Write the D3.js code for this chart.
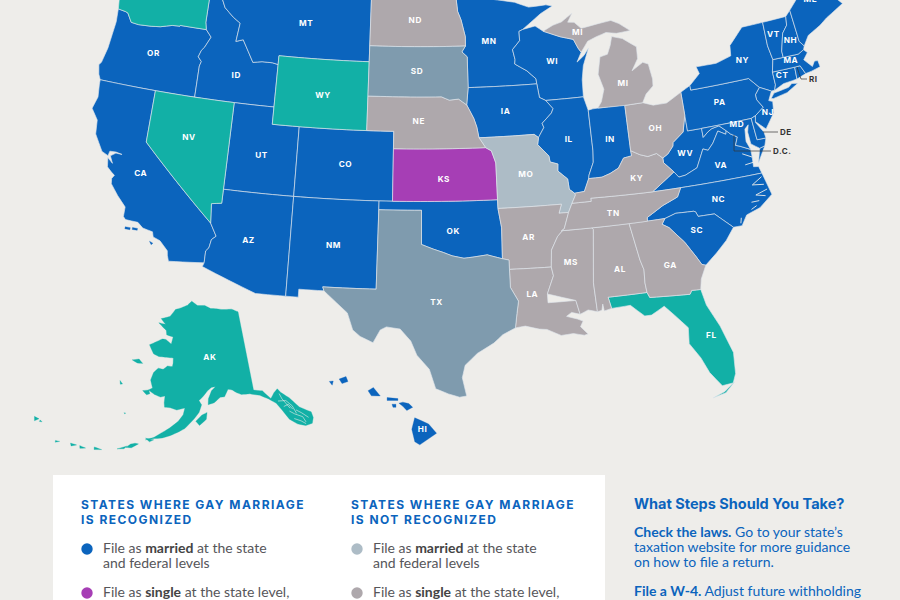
<!DOCTYPE html>
<html><head><meta charset="utf-8">
<script src="https://d3js.org/d3.v7.min.js"></script>
<style>html,body{margin:0;padding:0;background:#eeedea}svg{display:block}</style>
</head><body><svg id="c" width="900" height="600"></svg>
<script>
// ---- shared borders (lon, lat)
const colR=[[-124.0,46.27],[-123.4,46.2],[-123.2,46.15],[-122.8,45.65],[-122.2,45.6],[-121.2,45.65],[-120.5,45.72],[-119.6,45.92],[-119.0,45.95],[-118.98,46.0],[-116.92,46.0]];
const snakeR=[[-116.92,46.0],[-116.46,45.6],[-116.85,44.95],[-117.05,44.75],[-117.22,44.35],[-116.93,44.1],[-117.03,43.83],[-117.03,42]];
const idMt=[[-116.05,49],[-116.05,48],[-115.7,47.45],[-114.95,46.95],[-114.35,46.65],[-114.5,45.55],[-113.95,45.7],[-113.45,45.05],[-113.0,44.45],[-112.3,44.55],[-111.5,44.55],[-111.05,44.48]];
const coloR=[[-114.63,35.0],[-114.14,34.3],[-114.43,34.08],[-114.53,33.6],[-114.72,33.4],[-114.72,32.72]];
const redR=[[-100,34.56],[-99.2,34.3],[-98.5,34.1],[-97.9,33.9],[-97.1,33.75],[-96.5,33.8],[-95.5,33.9],[-94.48,33.64]];
const missUp=[[-91.22,43.5],[-91.1,42.7],[-90.65,42.5],[-90.15,42.0],[-90.3,41.75],[-91.05,41.2],[-90.95,40.95],[-91.4,40.4]];
const missMid=[[-91.4,40.4],[-91.5,40.0],[-90.75,39.3],[-90.7,38.95],[-90.15,38.8],[-90.2,38.4],[-89.55,37.9],[-89.5,37.3],[-89.15,37.05]];
const missLow=[[-89.7,36],[-90.1,35.1],[-90.6,34.7],[-91.1,33.95],[-91.2,33.0],[-91.1,32.5],[-91.6,31.5],[-91.6,31]];
const missRivNE=[[-96.45,43.5],[-96.6,42.5],[-96.1,41.7],[-95.9,41.2],[-95.77,40.58]];
const ohioR=[[-89.15,37.05],[-88.45,37.1],[-88.05,37.8],[-87.1,37.8],[-86.5,37.95],[-85.85,38.2],[-85.4,38.73],[-84.8,38.8],[-84.82,39.1],[-84.2,38.8],[-83.65,38.63],[-83.0,38.73],[-82.6,38.42]];
const wvVa=[[-81.97,37.54],[-81.68,37.2],[-81.2,37.25],[-80.3,37.55],[-79.65,38.55],[-79.3,38.42],[-78.87,38.77],[-78.35,39.4],[-77.83,39.13],[-77.75,39.32]];
const potomac=[[-77.75,39.32],[-77.5,39.1],[-77.05,38.85],[-77.3,38.4],[-77.0,38.3],[-76.3,38.0]];
const mdWv=[[-79.48,39.2],[-79.05,39.47],[-78.75,39.6],[-78.2,39.68],[-77.75,39.32]];
const gaSc=[[-83.1,35],[-83.35,34.7],[-82.9,34.45],[-82.0,33.5],[-81.4,32.6],[-81.1,32.1],[-80.85,32.03]];
const ncSc=[[-83.1,35],[-82.3,35.2],[-81.05,35.15],[-80.93,35.1],[-80.8,34.82],[-79.67,34.8],[-78.55,33.86]];
const tnNc=[[-84.32,34.99],[-84.3,35.2],[-83.1,35.75],[-82.0,36.1],[-81.68,36.59]];
const wiMn=[[-92.3,46.65],[-92.3,46.1],[-92.9,45.6],[-92.75,45],[-92.8,44.75],[-91.9,44.3],[-91.25,43.8],[-91.22,43.5]];
const wiMi=[[-90.4,46.55],[-89.1,46.13],[-88.1,45.9],[-87.8,45.35],[-87.6,45.1]];
const nyNe=[[-73.35,45.0],[-73.4,43.6],[-73.25,42.75],[-73.5,42.05],[-73.5,41.3],[-73.65,41.0]];

// ---- state outlines (lon, lat)
const WA=[[-124.7,48.4],[-123.2,48.15],[-122.8,48.95],[-123,49],[-117.03,49],[-117.04,46.42],...colR.slice().reverse(),[-124.1,46.9]];
const OR=[...colR,...snakeR,[-124.21,42],[-124.4,42.3],[-124.55,42.84],[-124.4,43.0],[-124.15,43.9],[-124.05,44.7],[-123.95,45.5]];
const CA=[[-124.21,42],[-120,42],[-120,39],...coloR,[-117.12,32.53],[-117.25,32.85],[-117.3,33.1],[-117.9,33.6],[-118.4,33.75],[-118.5,34.03],[-119.2,34.15],[-119.6,34.42],[-120.47,34.45],[-120.65,34.6],[-120.65,35.15],[-121.3,35.7],[-121.9,36.3],[-121.95,36.6],[-121.8,36.8],[-122.05,36.95],[-122.4,37.2],[-122.5,37.72],[-122.1,37.45],[-122.35,37.85],[-122.0,38.06],[-121.55,38.05],[-122.0,38.12],[-122.45,38.1],[-122.52,37.83],[-123.0,38.0],[-123.7,38.9],[-123.8,39.7],[-124.35,40.3],[-124.1,41.0],[-124.2,41.75]];
const CAisl1=[[-120.4,34.05],[-120.05,34.05],[-120.05,33.93],[-120.4,33.93]];
const CAisl2=[[-119.9,34.08],[-119.55,34.08],[-119.55,33.97],[-119.9,33.97]];
const CAisl3=[[-118.6,33.48],[-118.35,33.4],[-118.45,33.3]];
const NV=[[-120,42],[-114.04,42],[-114.04,36.2],[-114.75,36.1],[-114.63,35.0],[-120,39]];
const ID=[[-117.03,49],...idMt,[-111.05,42],[-117.03,42],...snakeR.slice().reverse(),[-117.04,46.42]];
const MT=[[-116.05,49],[-104.05,49],[-104.05,45],[-111.05,45],...idMt.slice().reverse()];
const WY=[[-111.05,45],[-104.05,45],[-104.05,41],[-111.05,41]];
const UT=[[-114.04,42],[-111.05,42],[-111.05,41],[-109.05,41],[-109.05,37],[-114.04,37]];
const CO=[[-109.05,41],[-102.05,41],[-102.05,37],[-109.05,37]];
const AZ=[[-114.04,37],[-109.05,37],[-109.05,31.33],[-111.07,31.33],[-114.81,32.5],...coloR.slice().reverse(),[-114.75,36.1],[-114.04,36.2]];
const NM=[[-109.05,37],[-103,37],[-103.04,32],[-106.62,32],[-106.53,31.78],[-108.21,31.78],[-108.21,31.33],[-109.05,31.33]];
const ND=[[-104.05,49],[-97.23,49],[-97.1,48.0],[-96.85,47.5],[-96.55,46.5],[-96.56,45.94],[-104.05,45.94]];
const SD=[[-104.05,45.94],[-96.56,45.94],[-96.85,45.6],[-96.45,45.3],[-96.45,43.5],[-96.6,42.5],[-97.2,42.85],[-97.9,42.8],[-98.5,43.0],[-104.05,43]];
const NE=[[-104.05,43],[-98.5,43],[-97.9,42.8],[-97.2,42.85],[-96.6,42.5],[-96.1,41.7],[-95.9,41.2],[-95.77,40.58],[-95.31,40],[-102.05,40],[-102.05,41],[-104.05,41]];
const KS=[[-102.05,40],[-95.31,40],[-94.9,39.8],[-94.62,39.1],[-94.62,37],[-102.05,37]];
const OK=[[-103,37],[-94.62,37],[-94.62,36.5],[-94.43,35.4],[-94.48,33.64],...redR.slice().reverse(),[-100,36.5],[-103,36.5]];
const TX=[[-103,36.5],[-100,36.5],...redR,[-94.04,33.55],[-94.04,32],[-93.55,31.2],[-93.7,30.5],[-93.85,29.7],[-94.7,29.35],[-95.3,28.9],[-96.4,28.35],[-97.2,27.7],[-97.4,27],[-97.15,25.96],[-97.6,25.9],[-98.3,26.1],[-99.1,26.4],[-99.5,27.5],[-100.3,28.3],[-100.7,29.1],[-101.4,29.77],[-102.3,29.88],[-102.7,29.7],[-103.15,28.97],[-104.0,29.3],[-104.5,29.65],[-104.9,30.6],[-106.0,31.4],[-106.53,31.78],[-106.62,32],[-103.04,32]];
const MN=[[-97.23,49],[-95.15,49],[-95.15,49.38],[-94.8,49.3],[-94.6,48.7],[-93.5,48.55],[-92.5,48.4],[-91.4,48.05],[-90,48.1],[-89.5,48.0],[-90.5,47.6],[-92.0,46.75],...wiMn,[-96.45,43.5],[-96.45,45.3],[-96.85,45.6],[-96.56,45.94],[-96.55,46.5],[-96.85,47.5],[-97.1,48.0]];
const IA=[...missRivNE.slice(0,1),...missUp,[-91.7,40.6],...missRivNE.slice().reverse()];
const MO=[[-95.77,40.58],[-91.7,40.6],...missMid,[-89.1,36.95],[-89.4,36.5],[-89.7,36],[-90.37,36],[-90.15,36.5],[-94.62,36.5],[-94.62,39.1],[-94.9,39.8],[-95.31,40]];
const AR=[[-94.62,36.5],[-90.15,36.5],[-90.37,36],[-89.7,36],[-90.1,35.1],[-90.6,34.7],[-91.1,33.95],[-91.2,33],[-94.04,33.02],[-94.04,33.55],[-94.48,33.64],[-94.43,35.4]];
const LA=[[-94.04,33.02],[-91.2,33],[-91.1,32.5],[-91.6,31.5],[-91.6,31],[-89.75,31],[-89.55,30.2],[-90.1,30.35],[-90.45,30.15],[-89.75,29.95],[-89.4,29.8],[-89.6,29.5],[-89.15,29.05],[-89.4,29],[-90.1,29.15],[-90.9,29.1],[-91.8,29.5],[-92.3,29.55],[-93.2,29.77],[-93.85,29.7],[-93.7,30.5],[-93.55,31.2],[-94.04,32]];
const MS=[[-90.3,35],[-88.2,35],[-88.1,34.9],[-88.47,31.9],[-88.4,30.25],[-89.0,30.4],[-89.55,30.2],[-89.75,31],...missLow.slice().reverse().slice(1,5),[-90.6,34.7],[-90.1,35.1]];
const AL=[[-88.2,35],[-85.6,35],[-85.18,32.87],[-85,32.3],[-85.05,31.55],[-85,31],[-87.6,31],[-87.45,30.35],[-87.95,30.25],[-88.0,30.65],[-88.1,30.3],[-88.4,30.25],[-88.47,31.9],[-88.1,34.9]];
const GA=[[-85.6,35],...gaSc,[-81.3,31.3],[-81.45,30.72],[-82.05,30.75],[-82.2,30.55],[-84.86,30.7],[-85,31],[-85.05,31.55],[-85,32.3],[-85.18,32.87]];
const FL=[[-87.6,31],[-85,31],[-84.86,30.7],[-82.2,30.55],[-82.05,30.75],[-81.45,30.72],[-81.25,29.8],[-80.6,28.5],[-80.05,26.9],[-80.15,25.7],[-80.4,25.2],[-81.1,25.15],[-81.75,26.0],[-82.15,26.9],[-82.75,27.8],[-82.65,28.7],[-83.4,29.5],[-84.0,30.1],[-84.9,29.7],[-85.35,29.7],[-86.2,30.4],[-87.45,30.35]];
const keys=[[-80.3,25.25],[-80.95,24.72],[-81.8,24.55],[-81.0,24.8],[-80.4,25.2]];
const TN=[[-89.7,36],[-89.4,36.5],[-88.05,36.5],[-88.05,36.68],[-83.68,36.6],[-81.68,36.59],...tnNc.slice().reverse(),[-90.3,35],[-90.1,35.1]];
const KY=[[-89.4,36.5],[-89.1,36.95],...ohioR,[-82.6,38.15],[-81.97,37.54],[-83.68,36.6],[-88.05,36.68],[-88.05,36.5]];
const IL=[[-90.65,42.5],[-87.8,42.5],[-87.55,41.7],[-87.53,39.35],[-87.6,38.7],[-88,38],[-88.05,37.8],[-88.45,37.1],...missMid.slice().reverse(),[-90.95,40.95],[-91.05,41.2],[-90.3,41.75],[-90.15,42]];
const IN=[[-87.55,41.7],[-87.2,41.75],[-86.82,41.76],[-84.8,41.76],[-84.82,39.1],[-84.8,38.8],[-85.4,38.73],[-85.85,38.2],[-86.5,37.95],[-87.1,37.8],[-88.05,37.8],[-88,38],[-87.6,38.7],[-87.53,39.35]];
const OH=[[-84.8,41.72],[-83.45,41.73],[-82.7,41.5],[-81.7,41.5],[-80.52,41.98],[-80.52,40.64],[-80.85,39.7],[-81.7,39.2],[-81.75,39],[-82.2,38.6],[-82.6,38.42],[-83,38.73],[-83.65,38.63],[-84.2,38.8],[-84.82,39.1]];
const MIL=[[-86.82,41.76],[-84.8,41.72],[-83.45,41.73],[-83.1,42.2],[-82.5,42.6],[-82.45,43.0],[-82.6,43.9],[-83.0,44.05],[-83.9,43.65],[-83.35,44.3],[-83.3,45.0],[-84.3,45.6],[-85.1,45.8],[-85.3,45.3],[-85.6,44.8],[-86.2,44.7],[-86.5,43.7],[-86.2,42.8],[-86.5,42.1]];
const MIU=[...wiMi,[-87.0,45.7],[-86.3,45.9],[-85.5,46.08],[-84.7,45.95],[-83.6,46.0],[-84.4,46.5],[-85.0,46.75],[-86.1,46.65],[-87.4,46.5],[-87.9,46.9],[-88.4,46.95],[-88.0,47.45],[-88.9,47.0],[-89.6,46.85]];
const WI=[[-92,46.75],[-91,46.9],...wiMi,[-88,44.55],[-87.4,44.9],[-87,45.3],[-87.55,44.3],[-87.75,43.5],[-87.8,42.5],[-90.65,42.5],[-91.1,42.7],...wiMn.slice().reverse()];
const WV=[[-82.6,38.15],[-82.6,38.42],[-82.2,38.6],[-81.75,39],[-81.7,39.2],[-80.85,39.7],[-80.52,40.64],[-80.52,39.72],[-79.48,39.72],...mdWv,...wvVa.slice().reverse()];
const VA=[[-83.68,36.6],[-81.68,36.59],[-75.87,36.55],[-76,36.95],[-76.35,37],[-76.3,37.6],...potomac.slice().reverse(),...wvVa.slice().reverse()];
const VAE=[[-75.95,37.15],[-75.6,37.6],[-75.25,38.03],[-75.65,37.95]];
const NC=[...tnNc,[-75.87,36.55],[-75.5,35.25],[-76.5,34.65],[-77.5,34.4],[-77.95,33.85],...ncSc.slice().reverse()];
const SC=[...ncSc,[-79.2,33.2],[-80,32.6],...gaSc.slice().reverse()];
const MD=[[-79.48,39.72],[-75.79,39.72],[-75.7,38.46],[-75.05,38.45],[-75.25,38.03],[-75.65,37.95],[-76.2,38.3],[-76.25,39.0],[-76.1,39.4],[-76.4,39.2],[-76.5,38.5],...potomac.slice().reverse(),...mdWv.slice().reverse()];
const DE=[[-75.79,39.72],[-75.45,39.82],[-75.55,39.45],[-75.1,38.8],[-75.05,38.45],[-75.7,38.46]];
const PA=[[-80.52,41.98],[-79.76,42.27],[-79.76,42],[-75.35,42],[-74.7,41.36],[-75.1,41],[-75.1,40.7],[-74.75,40.2],[-75.45,39.82],[-75.79,39.72],[-80.52,39.72]];
const NJ=[[-74.7,41.36],[-73.9,41],[-74.25,40.5],[-73.98,40.4],[-74.1,39.75],[-74.9,38.95],[-75.55,39.5],[-75.45,39.82],[-74.75,40.2],[-75.1,40.7],[-75.1,41]];
const NY=[[-79.76,42.27],[-78.9,42.85],[-79.05,43.27],[-77.5,43.25],[-76.3,43.5],[-76.2,44.1],[-75,45],...nyNe,[-73.9,41],[-74.7,41.36],[-75.35,42],[-79.76,42]];
const LI=[[-74.03,40.6],[-73.75,40.85],[-72.6,40.98],[-72.3,41.15],[-71.87,41.07],[-72.8,40.7],[-73.9,40.55]];
const CT=[[-73.5,42.05],[-71.8,42.02],[-71.85,41.32],[-72.9,41.25],[-73.65,41],[-73.5,41.3]];
const RI=[[-71.8,42.02],[-71.38,42.02],[-71.12,41.5],[-71.85,41.32]];
const MA=[[-73.5,42.05],[-71.8,42.02],[-71.38,42.02],[-71.12,41.5],[-70.65,41.55],[-69.95,41.67],[-70,42.05],[-70.25,42.07],[-70.5,41.8],[-71,42.3],[-70.6,42.65],[-70.82,42.87],[-71.3,42.7],[-71.9,42.71],[-73.25,42.75]];
const VT=[[-73.35,45],[-71.5,45.01],[-71.6,44.5],[-72.05,44.1],[-72.45,43.1],[-72.45,42.73],[-73.25,42.75],[-73.4,43.6]];
const NH=[[-71.5,45.01],[-71.08,45.3],[-70.98,43.4],[-70.7,43.07],[-70.82,42.87],[-71.3,42.7],[-72.45,42.73],[-72.45,43.1],[-72.05,44.1],[-71.6,44.5]];
const ME=[[-71.08,45.3],[-70.4,45.8],[-70,46.7],[-69.23,47.46],[-68.3,47.35],[-67.8,47.07],[-67.8,45.7],[-67,44.85],[-68.5,44.3],[-69.1,44],[-70.2,43.6],[-70.7,43.07],[-70.98,43.4]];
const sounds=[[[-75.95,36.35],[-76.7,36.0],[-75.9,35.9]],[[-75.75,35.6],[-76.6,35.4],[-75.95,35.25]],[[-76.45,35.05],[-77.0,35.05]],[[-76.3,37.25],[-76.9,37.2]],[[-76.3,37.55],[-76.95,37.85]],[[-77.1,34.65],[-76.7,34.8]],[[-78.0,34.0],[-77.9,34.3]]];
// Alaska
const AK=[[-141,69.65],[-143,70.1],[-146,70.2],[-148.5,70.4],[-150,70.45],[-152,70.85],[-154.5,70.85],[-156.6,71.35],[-158,70.85],[-160,70.5],[-162,70.2],[-163.5,69.3],[-166.2,68.88],[-164.5,68.3],[-166.7,68.35],[-164,67.6],[-163.7,67.1],[-161.7,66.95],[-162,66.1],[-163.7,66.55],[-164.8,66.55],[-168.1,65.6],[-166.5,64.65],[-165,64.45],[-162.8,64.5],[-161,64.5],[-160.9,63.9],[-161,63.5],[-162.3,63.5],[-163.3,63.05],[-164.6,63.1],[-165.6,62.5],[-166,61.6],[-165.2,60.7],[-166.1,60.4],[-164.5,60],[-163,59.8],[-162,60],[-162,59.2],[-161.8,58.7],[-160.5,58.7],[-159,58.5],[-157.2,58.8],[-157.5,58],[-158.5,57.2],[-160.3,56.3],[-162,55.6],[-163.2,55.05],[-164.9,54.6],[-163.5,54.85],[-161.5,55.1],[-160,55.45],[-158.5,55.9],[-157,56.4],[-156,57],[-155,57.6],[-154,58.3],[-153.4,59.2],[-154,59.7],[-153,60.2],[-152,60.8],[-151,61.2],[-150,61.25],[-151,60.8],[-151.8,59.9],[-151.9,59.2],[-150.5,59.4],[-149,60],[-148,60],[-147,60.85],[-146,60.7],[-145,60.3],[-144,60.05],[-142,59.95],[-139.8,59.55],[-138,58.9],[-136.6,58.2],[-135.8,57.3],[-134.8,56],[-133.5,55.2],[-132,54.7],[-130.6,54.7],[-130,55.3],[-130,56],[-132,57],[-133.5,58.4],[-135,59.3],[-135.5,59.8],[-136.5,59.45],[-137.5,58.9],[-139,60],[-141,60.3]];
const AKislands=[
 [[-154.7,57.3],[-153.4,58.0],[-152.2,58.3],[-152.4,57.5],[-153.9,56.8]],
 [[-171.7,63.4],[-170,63.7],[-168.8,63.3],[-170.2,63.2]],
 [[-167.4,60.2],[-166,60.4],[-165.6,60],[-166.3,59.8]],
 [[-173.2,60.7],[-172.4,60.4],[-172.9,60.3]],
 [[-170.4,57.2],[-170,57.2],[-170.2,57.1]],
 [[-166.8,54],[-166.1,54],[-167.3,53.4],[-168.4,53.3],[-167.6,53.8]],
 [[-164.9,54.8],[-163.2,54.75],[-164,54.45]],
 [[-170,52.9],[-168.2,53.5],[-168.7,53.1]],
 [[-174.3,52.4],[-172.8,52.35],[-174.2,52.1]],
 [[-177,52],[-175.8,51.95],[-176.8,51.7]],
 [[-178.8,51.9],[-177.6,51.95],[-178.5,51.6]],
 [[-181.6,51.5],[-180.8,51.6],[-181.5,51.3]],
 [[-186.8,52.5],[-186.2,52.95],[-187.2,52.95]],
 [[-185.9,52.9],[-185.4,52.8],[-185.9,52.7]]
];
const AKfjords=[
 [[-135.4,59.2],[-135.1,58.5],[-134.8,58.2],[-134,57.2]],
 [[-136.1,58.4],[-134.4,58.2],[-133.4,57.4],[-133,56.4]],
 [[-134.3,56.9],[-133.4,56.4],[-132,55.8],[-131.7,55.1]],
 [[-135.2,57.6],[-134.1,57.7],[-133.5,57]],
 [[-132.9,56.8],[-132,56.3],[-130.9,55.5]],
 [[-133.8,55.9],[-132.6,55.4],[-131.8,54.9]]
];
// Hawaii
const HIb=[[-155.9,20.25],[-155.2,19.95],[-154.8,19.5],[-155.65,18.95],[-155.9,19.1],[-156.05,19.7]];
const HIislands=[
 [[-159.75,22.1],[-159.4,22.22],[-159.3,21.98],[-159.6,21.88]],
 [[-158.27,21.55],[-158.0,21.7],[-157.65,21.3],[-158.1,21.3]],
 [[-157.3,21.22],[-156.75,21.17],[-156.75,21.08],[-157.3,21.08]],
 [[-157.05,20.9],[-156.85,20.9],[-156.85,20.75],[-157.0,20.75]],
 [[-156.7,20.95],[-156.5,21.0],[-156.2,20.93],[-156.0,20.75],[-156.3,20.6],[-156.5,20.8]],
 [[-160.25,21.98],[-160.05,22.0],[-160.1,21.8]]
];

// ---- status of each state
const married=[OR,CA,ID,MT,UT,CO,AZ,NM,OK,MN,WI,IA,IL,IN,WV,VA,VAE,NC,SC,PA,NY,LI,NJ,MD,DE,CT,RI,MA,VT,NH,ME];
const marriedIslets=[CAisl1,CAisl2,CAisl3];
const single=[KS];
const none=[WA,NV,WY,FL,keys];
const notMarried=[MO];
const notSingle=[ND,NE,AR,LA,MS,AL,GA,TN,KY,OH,MIL,MIU];
const notNone=[SD,TX];

// ---- state labels (name, lon, lat)
const labels=[["WA",-120,48.2],["MT",-109.15,47.03],["ND",-100.5,47.5],["SD",-100.35,44.5],["NE",-100.2,41.6],["KS",-98.4,38.27],["OK",-97.8,35.3],["TX",-99,31.3],["MN",-94.7,46.2],["IA",-93.7,42.05],["MO",-92.5,38.35],["AR",-92.6,34.8],["LA",-92.6,31.55],["WI",-89.9,44.75],["IL",-89.2,40.15],["MI",-87.7,46.3],["MI",-84.7,43],["IN",-86.2,39.9],["OH",-82.8,40.2],["KY",-84.65,37.5],["TN",-86.6,35.7],["MS",-89.85,33.2],["AL",-86.6,32.5],["GA",-83.2,32.35],["FL",-81.25,28.1],["SC",-81.05,34.05],["NC",-79.2,35.6],["VA",-78.6,37.45],["WV",-80.95,38.5],["PA",-77.8,41],["NY",-75.5,43.1],["NJ",-74.5,39.85],["MD",-76.9,39.55],["CT",-72.85,41.75],["MA",-71.95,42.45],["VT",-72.75,44.2],["NH",-71.6,43.6],["ME",-69.3,45.6],["OR",-120.65,44.1],["ID",-114.15,43.6],["NV",-117,39.7],["UT",-111.6,39.15],["WY",-107.45,42.9],["CO",-105.5,39],["CA",-120,37.2],["AZ",-111.9,34.3],["NM",-106.05,34.4]];
const akLabel=[["AK",-151,64.7]];
const hiLabel=[["HI",-155.5,19.7]];

// ---- legend texts
const headA=["STATES WHERE GAY MARRIAGE","IS RECOGNIZED"];
const headB=["STATES WHERE GAY MARRIAGE","IS NOT RECOGNIZED"];
const itemA=[["File as ","married"," at the state"],["and federal levels"]];
const itemB=[["File as ","single"," at the state level,"]];
const stepTitle="What Steps Should You Take?";
const step1=[["Check the laws."," Go to your state’s"],["","taxation website for more guidance"],["","on how to file a return."]];
const step2=[["File a W-4."," Adjust future withholding"]];

const C={bg:"#eeedea",blue:"#0b64bd",teal:"#12b0a6",purple:"#a63eb5",grey:"#aea8ac",slate:"#7f9bae",light:"#adbcc6",text:"#56565a"};

const svg=d3.select("#c");
svg.append("rect").attr("width",900).attr("height",600).attr("fill",C.bg);

const proj=d3.geoAlbers().rotate([100,0]).center([0,37]).parallels([26,35]).scale(1011).translate([421.5,201.5]);
const projAK=d3.geoAlbers().rotate([154,0]).center([0,60]).parallels([55,65]).scale(490).translate([199,398]);
const projHI=d3.geoAlbers().rotate([157,0]).center([0,20]).parallels([8,18]).scale(1200).translate([393,423]);

function dense(r){const o=[];r.forEach((p,i)=>{const q=r[(i+1)%r.length];const n=Math.max(1,Math.ceil(Math.abs(q[0]-p[0])/0.5));
  for(let k=0;k<n;k++)o.push([p[0]+(q[0]-p[0])*k/n,p[1]+(q[1]-p[1])*k/n]);});return o;}
const ringPath=(r,pr)=>d3.line()(dense(r).map(pr))+"Z";
const gMap=svg.append("g");
function draw(list,color,pr){
  gMap.append("g").selectAll("path").data(list).join("path").attr("d",d=>ringPath(d,pr))
   .attr("fill",color).attr("stroke","#dfe6ec").attr("stroke-opacity",.8).attr("stroke-width",.8).attr("stroke-linejoin","round");
}
function drawBare(list,color,pr){
  gMap.append("g").selectAll("path").data(list).join("path").attr("d",d=>ringPath(d,pr)).attr("fill",color).attr("stroke",color).attr("stroke-width",.3);
}
draw(married,C.blue,proj);draw(single,C.purple,proj);draw(none,C.teal,proj);
draw(notMarried,C.light,proj);draw(notSingle,C.grey,proj);draw(notNone,C.slate,proj);
drawBare(marriedIslets,C.blue,proj);
gMap.append("g").selectAll("path").data(sounds).join("path").attr("fill","none").attr("stroke",C.bg).attr("stroke-width",.9)
  .attr("d",d=>d3.line()(d.map(proj)));
drawBare([AK,...AKislands],C.teal,projAK);
gMap.append("g").selectAll("path").data(AKfjords).join("path").attr("fill","none").attr("stroke",C.bg).attr("stroke-width",.6)
  .attr("d",d=>d3.line()(d.map(projAK)));
drawBare([HIb,...HIislands],C.blue,projHI);

function lab(list,pr){
 svg.append("g").selectAll("text").data(list).join("text").text(d=>d[0])
  .attr("x",d=>pr([d[1],d[2]])[0]).attr("y",d=>pr([d[1],d[2]])[1]).attr("dy","0.35em").attr("text-anchor","middle")
  .attr("fill","#fff").attr("font-family","Inter,Lato,sans-serif").attr("font-weight",700).attr("font-size",8.2).attr("letter-spacing",.6);
}
lab(labels,proj);lab(akLabel,projAK);lab(hiLabel,projHI);

// leader lines
const leader=[["RI",[[797,67],[801,79],[807,79]],809,79],["DE",[[763,132],[778,132]],780,132],["D.C.",[[734,135],[734,151],[771,151]],773,151]];
leader.forEach(l=>{
 svg.append("path").attr("d",d3.line()(l[1])).attr("fill","none").attr("stroke","#333").attr("stroke-width",.7);
 svg.append("text").text(l[0]).attr("x",l[2]).attr("y",l[3]).attr("dy","0.35em").attr("fill","#333").attr("font-family","Inter,Lato,sans-serif").attr("font-weight",700).attr("font-size",8).attr("letter-spacing",.5);
});

// legend panel
svg.append("rect").attr("x",53).attr("y",475).attr("width",552).attr("height",125).attr("fill","#fff");
const HF="Inter,sans-serif",BF="Lato,sans-serif";
function heading(lines,x){lines.forEach((t,i)=>svg.append("text").text(t).attr("x",x).attr("y",509+i*15).attr("fill",C.blue)
  .attr("font-family",HF).attr("font-weight",700).attr("font-size",12).attr("letter-spacing",1.45));}
function item(rows,x,y,color){
  svg.append("circle").attr("cx",x+6).attr("cy",y-4).attr("r",5.7).attr("fill",color);
  rows.forEach((r,i)=>{const t=svg.append("text").attr("x",x+22).attr("y",y+i*15).attr("font-family",BF).attr("font-size",14).attr("fill",C.text);
    if(r.length==1)t.append("tspan").text(r[0]);
    else{t.append("tspan").text(r[0]);t.append("tspan").attr("font-weight",700).attr("fill","#444").text(r[1]);t.append("tspan").text(r[2]);}
  });
}
heading(headA,81);heading(headB,351);
item(itemA,81,553,C.blue);item(itemB,81,597,C.purple);
item(itemA,351,553,C.light);item(itemB,351,597,C.grey);
svg.append("text").text(stepTitle).attr("x",634).attr("y",509).attr("fill",C.blue).attr("font-family",HF).attr("font-weight",700).attr("font-size",14.5);
function step(rows,y){rows.forEach((r,i)=>{const t=svg.append("text").attr("x",634).attr("y",y+i*15).attr("font-family",BF).attr("font-size",14).attr("fill",C.blue);
  t.append("tspan").attr("font-weight",700).text(r[0]);t.append("tspan").text(r[1]);});}
step(step1,537);step(step2,596);
</script></body></html>
